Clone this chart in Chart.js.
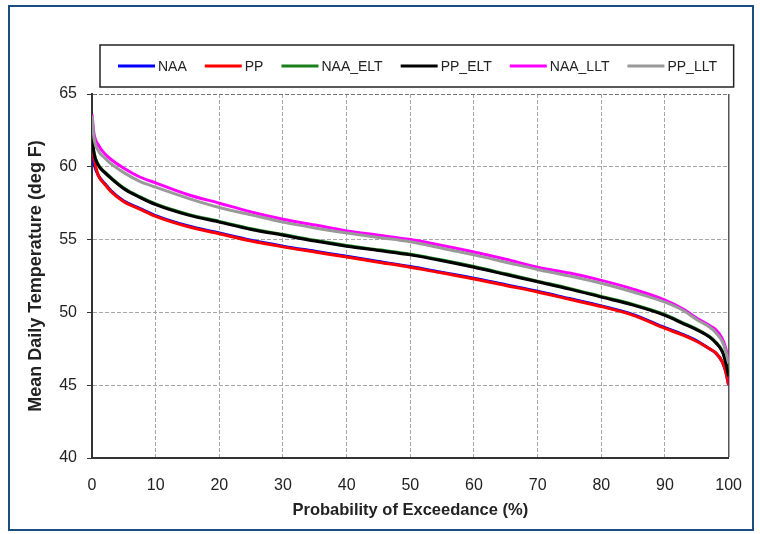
<!DOCTYPE html>
<html>
<head>
<meta charset="utf-8">
<script src="https://cdn.jsdelivr.net/npm/chart.js@4/dist/chart.umd.min.js"></script>
<style>
    html, body { margin: 0; padding: 0; background: #fff; }
    #frame {
        position: absolute; left: 8px; top: 5px; width: 746px; height: 526px;
        box-sizing: border-box; border: 2px solid #1b4e80;
    }
    #wrap { position: absolute; left: 0; top: 0; width: 760px; height: 534px; }
</style>
</head>
<body>
<div id="frame"></div>
<div id="wrap"><canvas id="chart"></canvas></div>
<script>
// probability of exceedance (%)
const pct = [0, 0.3, 1, 2, 3, 5, 7.5, 10, 15, 20, 25, 30, 35, 40, 45, 50, 55, 60, 65, 70, 75, 80, 85, 90, 93, 95, 97, 98, 99, 99.5, 100];

// mean daily temperature (deg F)
const naa     = [60.8, 60.2, 59.4, 58.85, 58.35, 57.65, 57.15, 56.65, 55.95, 55.45, 54.95, 54.55, 54.2, 53.85, 53.5, 53.15, 52.75, 52.35, 51.9, 51.45, 50.95, 50.45, 49.85, 48.95, 48.45, 48.05, 47.5, 47.2, 46.6, 46.0, 45.0];
const pp      = [61.6, 60.6, 59.4, 58.8, 58.3, 57.6, 57.1, 56.6, 55.9, 55.4, 54.9, 54.5, 54.15, 53.8, 53.45, 53.1, 52.7, 52.3, 51.85, 51.4, 50.9, 50.4, 49.8, 48.9, 48.4, 48.0, 47.5, 47.2, 46.6, 46.0, 45.0];
const naaElt  = [62.0, 61.0, 60.15, 59.65, 59.25, 58.55, 57.95, 57.45, 56.75, 56.25, 55.75, 55.35, 54.95, 54.6, 54.3, 54.0, 53.6, 53.15, 52.65, 52.15, 51.65, 51.1, 50.55, 49.85, 49.25, 48.85, 48.35, 47.95, 47.35, 46.7, 45.8];
const ppElt   = [62.3, 61.0, 60.1, 59.6, 59.2, 58.5, 57.9, 57.4, 56.7, 56.2, 55.7, 55.3, 54.9, 54.55, 54.25, 53.95, 53.55, 53.1, 52.6, 52.1, 51.6, 51.05, 50.5, 49.8, 49.2, 48.8, 48.3, 47.9, 47.3, 46.6, 45.6];
const naaLlt  = [63.6, 62.3, 61.5, 60.9, 60.5, 59.9, 59.3, 58.9, 58.1, 57.5, 56.9, 56.4, 56.0, 55.6, 55.3, 55.0, 54.6, 54.15, 53.65, 53.1, 52.7, 52.2, 51.6, 50.85, 50.2, 49.6, 49.1, 48.8, 48.2, 47.6, 46.7];
const ppLlt   = [63.5, 62.0, 61.1, 60.6, 60.2, 59.6, 59.0, 58.6, 57.85, 57.2, 56.7, 56.2, 55.8, 55.45, 55.15, 54.85, 54.4, 53.95, 53.45, 52.95, 52.5, 52.0, 51.4, 50.7, 50.1, 49.5, 49.0, 48.6, 48.0, 47.4, 46.5];

const seriesNames = ['NAA', 'PP', 'NAA_ELT', 'PP_ELT', 'NAA_LLT', 'PP_LLT'];
const seriesColors = ['#0000ff', '#ff0000', '#1a7f1a', '#000000', '#ff00ff', '#999999'];
const seriesValues = [naa, pp, naaElt, ppElt, naaLlt, ppLlt];

const xTicks = [0, 10, 20, 30, 40, 50, 60, 70, 80, 90, 100];
const yTicks = [40, 45, 50, 55, 60, 65];

const FONT = 'Arial, "Liberation Sans", sans-serif';

// legend drawn inside a framed box above the plot
const boxLegend = {
    id: 'boxLegend',
    afterDraw(chart) {
        const ctx = chart.ctx;
        const area = chart.chartArea;
        const top = 45, bottom = 87;
        const left = area.left + 8, right = area.right + 5;
        const cy = (top + bottom) / 2;
        ctx.save();
        ctx.strokeStyle = '#222';
        ctx.lineWidth = 1.5;
        ctx.strokeRect(left, top, right - left, bottom - top);
        ctx.font = '14px ' + FONT;
        ctx.textBaseline = 'middle';
        ctx.textAlign = 'left';
        let x = left + 18;
        chart.data.datasets.slice().reverse().forEach(ds => {
            ctx.strokeStyle = ds.borderColor;
            ctx.lineWidth = 3;
            ctx.beginPath();
            ctx.moveTo(x, cy);
            ctx.lineTo(x + 37, cy);
            ctx.stroke();
            ctx.fillStyle = '#222';
            ctx.fillText(ds.label, x + 40, cy + 1);
            x += 40 + ctx.measureText(ds.label).width + 18;
        });
        ctx.restore();
    }
};

// datasets listed last-first so that later series sit on top
const datasets = seriesNames.map((name, i) => ({
    label: name,
    data: pct.map((p, j) => ({ x: p, y: seriesValues[i][j] })),
    borderColor: seriesColors[i],
    backgroundColor: seriesColors[i],
    borderWidth: 3,
    pointRadius: 0,
    cubicInterpolationMode: 'monotone',
    fill: false
})).reverse();

new Chart(document.getElementById('chart'), {
    type: 'line',
    data: { datasets },
    options: {
        responsive: true,
        maintainAspectRatio: false,
        animation: false,
        events: [],
        layout: { padding: { top: 94, left: 20, right: 28, bottom: 10 } },
        plugins: {
            legend: { display: false },
            tooltip: { enabled: false }
        },
        scales: {
            x: {
                type: 'linear',
                min: 0,
                max: 100,
                afterBuildTicks: s => { s.ticks = xTicks.map(v => ({ value: v })); },
                afterFit: s => { s.height = 66; },
                ticks: { color: '#222', font: { family: FONT, size: 16 }, padding: 18, maxRotation: 0 },
                grid: {
                    drawTicks: false,
                    color: c => c.tick && c.tick.value === 100 ? '#555' : '#a6a6a6',
                    lineWidth: c => c.tick && c.tick.value === 100 ? 1.5 : 1
                },
                border: {
                    color: '#333', width: 2,
                    dash: c => c.tick && c.tick.value === 100 ? [] : [4, 2]
                },
                title: {
                    display: true,
                    text: 'Probability of Exceedance (%)',
                    color: '#222',
                    font: { family: FONT, size: 16.5, weight: 'bold' },
                    padding: { top: 2, bottom: 4 }
                }
            },
            y: {
                min: 40,
                max: 65,
                afterBuildTicks: s => { s.ticks = yTicks.map(v => ({ value: v })); },
                afterFit: s => { s.width = 72; },
                ticks: { color: '#222', font: { family: FONT, size: 16 }, padding: 10 },
                grid: {
                    color: c => c.tick && c.tick.value === 65 ? '#777' : '#a6a6a6',
                    tickColor: '#333',
                    tickLength: 5,
                    tickBorderDash: []
                },
                border: { color: '#333', width: 2, dash: [4, 2] },
                title: {
                    display: true,
                    text: 'Mean Daily Temperature (deg F)',
                    color: '#222',
                    font: { family: FONT, size: 18, weight: 'bold' },
                    padding: { top: 5, bottom: 0 }
                }
            }
        }
    },
    plugins: [boxLegend]
});
</script>
</body>
</html>
